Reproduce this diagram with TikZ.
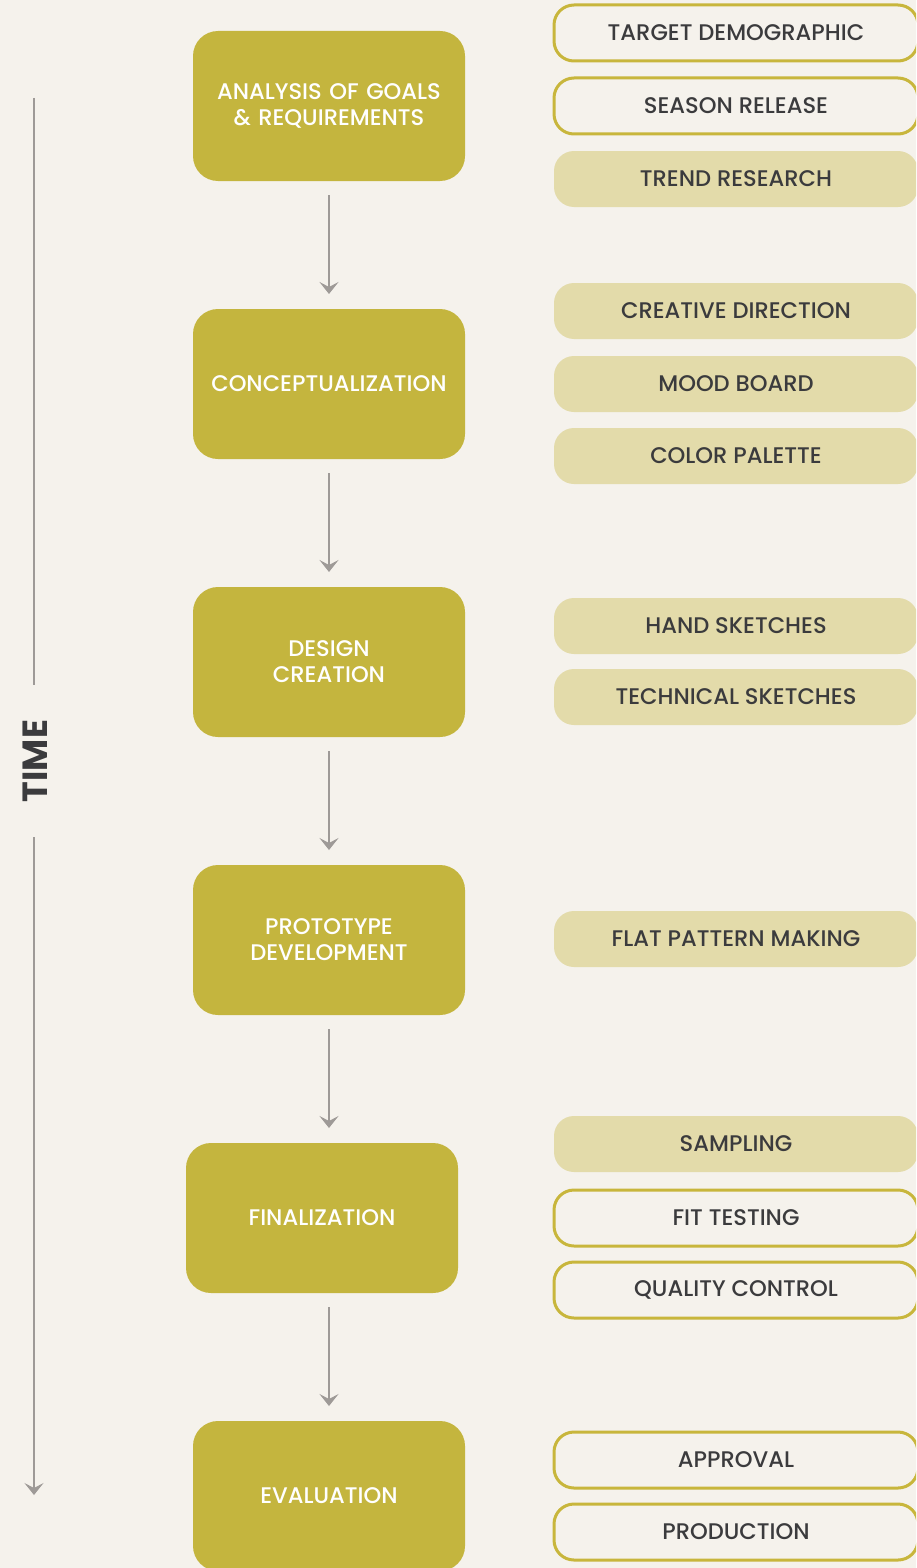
\documentclass[tikz,border=0pt]{standalone}
\usepackage{fontspec}
\setmainfont{Poppins}
\newfontfamily\mediumfont{Poppins Medium}
\usepackage{tikz}
\usetikzlibrary{positioning}
\usetikzlibrary{arrows.meta}
\definecolor{paper}{HTML}{F5F2EC}
\definecolor{stagefill}{HTML}{C4B53E}
\definecolor{taskfill}{HTML}{E3DBAA}
\definecolor{taskline}{HTML}{C8B63C}
\definecolor{taskink}{HTML}{3B3B3D}
\definecolor{flowgray}{HTML}{9E9A97}
\tikzstyle{stage} = [rectangle, rounded corners=12.5pt, fill=stagefill, text=white, text width=134pt, align=center, minimum width=136pt, minimum height=75pt, inner sep=0pt, outer sep=0pt, font=\mediumfont\fontsize{11.3}{13}\selectfont]
\tikzstyle{task} = [rectangle, rounded corners=10pt, minimum width=182pt, minimum height=28pt, inner sep=0pt, outer sep=0pt, text=taskink, font=\mediumfont\fontsize{11.3}{13}\selectfont]
\tikzstyle{open} = [task, draw=taskline, line width=1.5pt, fill=paper]
\tikzstyle{shaded} = [task, fill=taskfill]
\tikzstyle{flow} = [draw=flowgray, line width=1pt, -{Stealth[length=6pt,width=9.5pt,inset=2.5pt]}]

\begin{document}
\begin{tikzpicture}[x=0.5pt,y=-0.5pt,node distance=64pt]
    \fill[paper] (0,0) rectangle (916,1568);
    \useasboundingbox (0,0) rectangle (916,1568);
    \clip (0,0) rectangle (916,1568);

    % main stages
    \node [stage] (goals) at (329,106) {ANALYSIS OF GOALS\\\& REQUIREMENTS};
    \node [stage, below=of goals] (concept) {CONCEPTUALIZATION};
    \node [stage, below=of concept] (design) {DESIGN\\CREATION};
    \node [stage, below=of design] (proto) {PROTOTYPE\\DEVELOPMENT};
    \node [stage, below=of proto, xshift=-3.5pt] (final) {FINALIZATION};
    \node [stage, below=of final, xshift=3.5pt] (eval) {EVALUATION};

    % tasks
    \node [open] (target) at (736,33) {TARGET DEMOGRAPHIC};
    \node [open] (season) at (736,106) {SEASON RELEASE};
    \node [shaded] (trend) at (736,179) {TREND RESEARCH};
    \node [shaded] (creative) at (736,311) {CREATIVE DIRECTION};
    \node [shaded] (mood) at (736,384) {MOOD BOARD};
    \node [shaded] (palette) at (736,456) {COLOR PALETTE};
    \node [shaded] (hand) at (736,626) {HAND SKETCHES};
    \node [shaded] (technical) at (736,697) {TECHNICAL SKETCHES};
    \node [shaded] (flat) at (736,939) {FLAT PATTERN MAKING};
    \node [shaded] (sampling) at (736,1144) {SAMPLING};
    \node [open] (fit) at (736,1218) {FIT TESTING};
    \node [open] (quality) at (736,1290) {QUALITY CONTROL};
    \node [open] (approval) at (736,1460) {APPROVAL};
    \node [open] (production) at (736,1532) {PRODUCTION};

    % time axis
    \node [rotate=90, minimum width=76pt, inner sep=0pt, text=taskink, font=\fontsize{17.5}{18}\selectfont\bfseries] (time) at (35,761) {TIME};
    \coordinate (timetop) at (34,98);
    \coordinate (timeend) at (34,1495);

    \draw[flowgray, line width=1pt](timetop) -- (timetop |- time.east);
    \draw[flow](timetop |- time.west) -- (timeend);

    \draw[flow]([yshift=-7pt]goals.south) -- ([yshift=7.5pt]concept.north);
    \draw[flow]([yshift=-7pt]concept.south) -- ([yshift=7.5pt]design.north);
    \draw[flow]([yshift=-7pt]design.south) -- ([yshift=7.5pt]proto.north);
    \draw[flow]([yshift=-7pt]proto.south) -- ([yshift=7.5pt]proto.south |- final.north);
    \draw[flow]([yshift=-7pt]final.south -| eval.north) -- ([yshift=7.5pt]eval.north);
\end{tikzpicture}
\end{document}
